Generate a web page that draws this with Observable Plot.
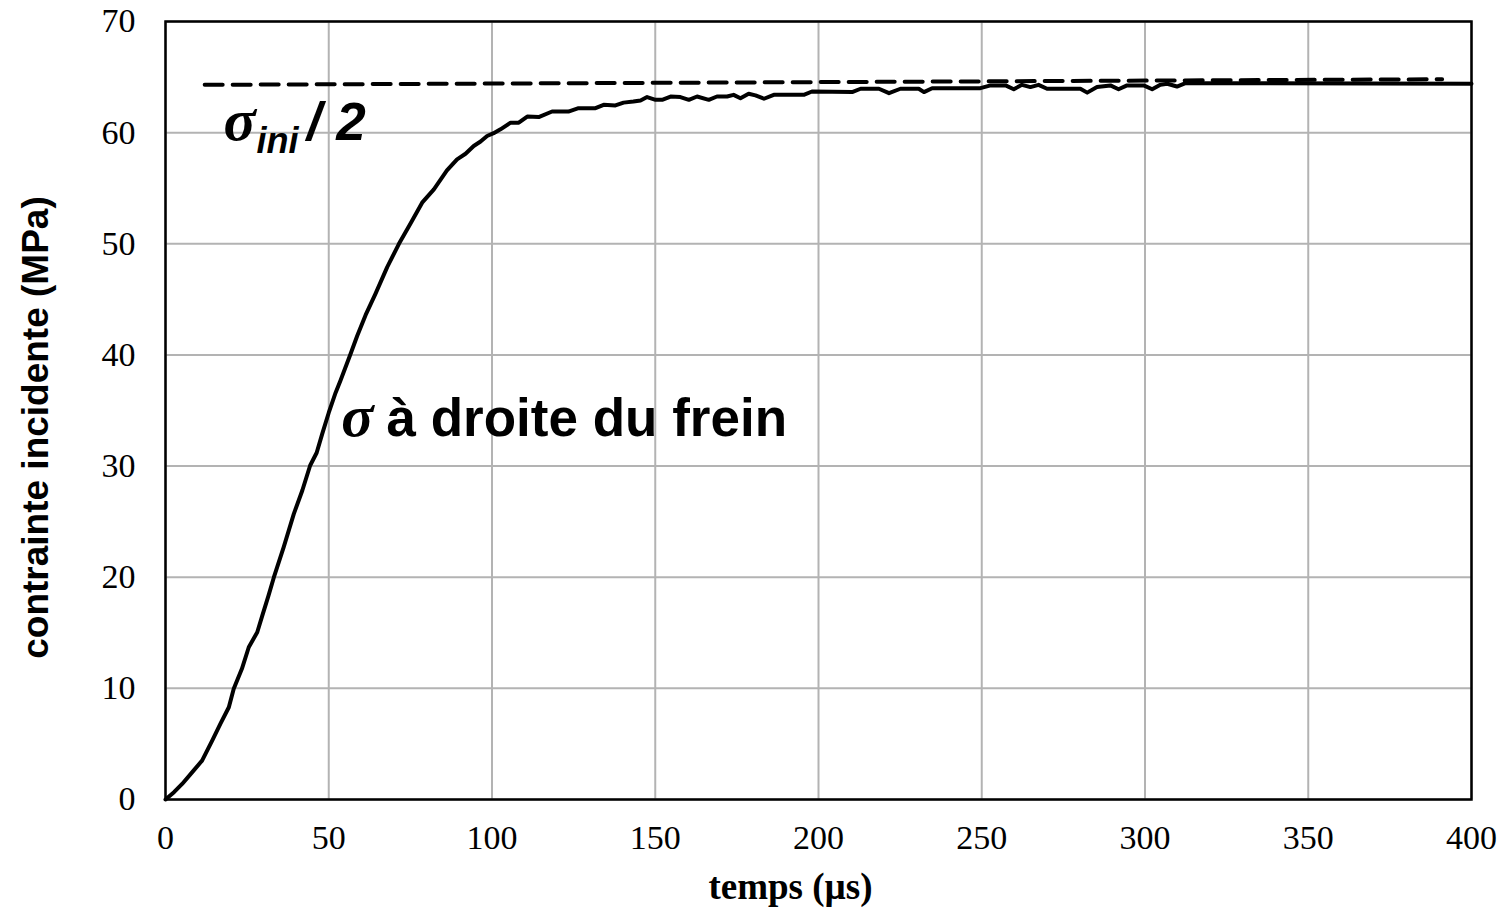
<!DOCTYPE html>
<html>
<head>
<meta charset="utf-8">
<script src="https://cdn.jsdelivr.net/npm/d3@7"></script>
<script src="https://cdn.jsdelivr.net/npm/@observablehq/plot@0.6"></script>
<style>
  html, body { margin: 0; padding: 0; background: #fff; }
</style>
</head>
<body>
<div id="chart"></div>
<script>
// temps (µs)
const time = [0, 2.6, 5.1, 8.2, 11.2, 14.3, 16.8, 19.4, 20.9, 23.4, 25.5, 28.1, 29.6, 31.5, 33.2, 36.2, 39.3, 41.9, 44.3, 46.3, 48, 50, 52.1, 53.6, 56.7, 58.7, 61.3, 64.3, 67.9, 71.5, 75, 78.6, 82.2, 86.2, 89.3, 91.9, 94.4, 96.5, 98.5, 100.5, 102.6, 105.7, 108.2, 110.8, 114.3, 118.4, 123.4, 126.5, 131.7, 134.2, 137.8, 140.3, 143.3, 145.5, 147.5, 150.1, 152.1, 154.7, 157.7, 160.3, 162.8, 166.4, 168.9, 172, 174, 176.1, 178.6, 180.7, 183.3, 186.3, 195.5, 198, 210.3, 212.9, 218.5, 221.6, 225.1, 230.7, 232.3, 234.8, 249.6, 252.7, 257.3, 259.8, 262.3, 264.9, 267.4, 270, 280.2, 282.3, 285.3, 289.4, 291.9, 294.5, 299.6, 302.2, 304.7, 306.8, 309.8, 312.4, 400];
// contrainte incidente (MPa)
const stress = [0, 0.66, 1.4, 2.46, 3.5, 5.3, 6.8, 8.3, 9.96, 11.76, 13.7, 15.05, 16.5, 18.3, 20, 22.7, 25.7, 27.8, 30.05, 31.2, 32.9, 34.8, 36.6, 37.7, 40.1, 41.7, 43.6, 45.5, 47.9, 50, 51.8, 53.7, 54.9, 56.6, 57.6, 58.1, 58.8, 59.2, 59.7, 59.95, 60.3, 60.9, 60.9, 61.45, 61.4, 61.9, 61.9, 62.2, 62.2, 62.5, 62.45, 62.7, 62.8, 62.9, 63.2, 62.95, 62.95, 63.25, 63.2, 62.95, 63.25, 62.95, 63.25, 63.25, 63.4, 63.1, 63.5, 63.35, 63.05, 63.4, 63.4, 63.7, 63.65, 63.95, 63.95, 63.55, 63.95, 63.95, 63.65, 64, 64, 64.25, 64.25, 63.9, 64.3, 64.1, 64.3, 63.95, 63.95, 63.6, 64.1, 64.25, 63.9, 64.25, 64.25, 63.9, 64.3, 64.4, 64.15, 64.45, 64.4];
// sigma_ini / 2 reference (dashed)
const refTime = [12, 391];
const refStress = [64.3, 64.8];

const xTicks = [0, 50, 100, 150, 200, 250, 300, 350, 400];
const yTicks = [0, 10, 20, 30, 40, 50, 60, 70];

const xLabel = "temps (µs)";
const yLabel = "contrainte incidente (MPa)";

// annotation anchors (data coordinates)
const annotTime = [17.8, 27.9, 43.3, 53.8, 67.7];
const annotStress = [59.3, 58.2, 59.3, 32.75, 32.75];
const annotText = ["σ", "ini", "/ 2", "σ", "à droite du frein"];

const curve = time.map((t, i) => ({t, s: stress[i]}));
const ref = refTime.map((t, i) => ({t, s: refStress[i]}));
const annot = annotText.map((txt, i) => ({t: annotTime[i], s: annotStress[i], txt}));

const sigmaStyle = {fontFamily: "Liberation Serif", fontStyle: "italic", fontWeight: "bold", fontSize: 60};
const sansBold = {fontFamily: "Liberation Sans", fontWeight: "bold"};

const chart = Plot.plot({
  width: 1508,
  height: 913,
  marginLeft: 165,
  marginRight: 37,
  marginTop: 21,
  marginBottom: 114,
  x: {domain: [0, 400]},
  y: {domain: [0, 70]},
  style: {fontFamily: "Liberation Serif", fontSize: "34px", color: "#000", background: "#fff"},
  marks: [
    Plot.gridX(xTicks, {stroke: "#b3b3b3", strokeWidth: 2, strokeOpacity: 1}),
    Plot.gridY(yTicks, {stroke: "#b3b3b3", strokeWidth: 2, strokeOpacity: 1}),
    Plot.axisX(xTicks, {tickSize: 0, tickPadding: 25, label: null, fontSize: 34}),
    Plot.axisY(yTicks, {tickSize: 0, tickPadding: 30, label: null, fontSize: 34}),
    Plot.line(ref, {x: "t", y: "s", stroke: "#000", strokeWidth: 4, strokeDasharray: "18,10"}),
    Plot.line(curve, {x: "t", y: "s", stroke: "#000", strokeWidth: 4, strokeLinejoin: "round"}),
    Plot.frame({stroke: "#000", strokeWidth: 2.5}),
    // sigma glyphs
    Plot.text(annot.filter(d => d.txt === "σ"), {x: "t", y: "s", text: "txt", textAnchor: "start", lineAnchor: "bottom", ...sigmaStyle, fill: "#000"}),
    // subscript ini
    Plot.text(annot.filter(d => d.txt === "ini"), {x: "t", y: "s", text: "txt", textAnchor: "start", lineAnchor: "bottom", ...sansBold, fontStyle: "italic", fontSize: 36, fill: "#000"}),
    // "/ 2"
    Plot.text(annot.filter(d => d.txt === "/ 2"), {x: "t", y: "s", text: "txt", textAnchor: "start", lineAnchor: "bottom", ...sansBold, fontStyle: "italic", fontSize: 53, fill: "#000"}),
    // curve label
    Plot.text(annot.filter(d => d.txt === "à droite du frein"), {x: "t", y: "s", text: "txt", textAnchor: "start", lineAnchor: "bottom", ...sansBold, fontSize: 53, fill: "#000"}),
    // axis titles
    Plot.text([xLabel], {frameAnchor: "bottom", text: d => d, textAnchor: "middle", lineAnchor: "bottom", dy: 99, dx: -28, fontFamily: "Liberation Serif", fontWeight: "bold", fontSize: 37, fill: "#000"}),
    Plot.text([yLabel], {frameAnchor: "left", text: d => d, rotate: -90, textAnchor: "middle", lineAnchor: "middle", dx: -129, dy: 17, ...sansBold, fontSize: 37, fill: "#000"})
  ]
});

document.getElementById("chart").appendChild(chart);
</script>
</body>
</html>
